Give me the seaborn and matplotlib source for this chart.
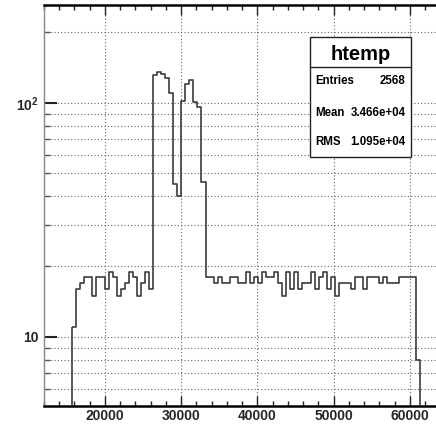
import numpy as np
import pandas as pd
import matplotlib
matplotlib.use("Agg")
import matplotlib.pyplot as plt
import seaborn as sns
from matplotlib import font_manager
from matplotlib.ticker import FixedLocator, FixedFormatter, MultipleLocator, NullFormatter, LogLocator
from matplotlib.patches import Rectangle
from matplotlib.lines import Line2D

# ---------------- data ----------------
bin_start = 15700.0
bin_width = 530.0
counts = [11, 16, 17, 18, 18, 15, 18, 18, 16, 19, 18, 15, 16, 17, 19, 18, 15, 17, 19, 16,
          131, 136, 133, 128, 110, 45, 40, 102, 121, 125, 101, 96, 46,
          18, 18, 17, 18, 17, 17, 18, 18, 17, 17, 19, 17, 18, 17, 19, 18, 18, 19, 17, 15,
          19, 16, 19, 16, 17, 17, 19, 16, 18, 19, 16, 18, 15, 17, 17, 17, 16, 18, 18, 16,
          18, 18, 18, 17, 18, 17, 17, 17, 18, 18, 18, 18, 8]
x_range = (12000, 65000)
y_range = (5.07, 262)
x_ticks = [20000, 30000, 40000, 50000, 60000]
x_tick_labels = ["20000", "30000", "40000", "50000", "60000"]
y_ticks = [10, 100]
y_tick_labels = ["10", r"$10^{2}$"]
stats_title = "htemp"
stats_names = ["Entries", "Mean", "RMS"]
stats_values = ["2568", "3.466e+04", "1.095e+04"]

# ---------------- style ----------------
sns.set_style("white")
plt.rcParams["font.family"] = ["Liberation Sans", "DejaVu Sans"]
plt.rcParams["font.weight"] = "bold"
plt.rcParams["mathtext.fontset"] = "custom"
plt.rcParams["mathtext.default"] = "bf"
plt.rcParams["mathtext.bf"] = "Liberation Sans:bold"
plt.rcParams["mathtext.rm"] = "Liberation Sans:bold"
plt.rcParams["mathtext.it"] = "Liberation Sans:bold"

installed = {f.name for f in font_manager.fontManager.ttflist}
if "Liberation Sans Narrow" in installed:
    stats_family = ["Liberation Sans Narrow", "Liberation Sans", "DejaVu Sans"]
    stats_size = 9.5
else:
    stats_family = ["Liberation Sans", "DejaVu Sans"]
    stats_size = 8.3

W, H = 436, 430
fig = plt.figure(figsize=(W / 100, H / 100), dpi=100)
fig.patch.set_facecolor("white")
ax = fig.add_axes([44 / W, 24 / H, 404 / W, 401 / H])

edges = (bin_start + bin_width * np.arange(len(counts) + 1)).tolist()
centers = [e + bin_width / 2 for e in edges[:-1]]
df = pd.DataFrame({"x": centers, "n": counts})

line_color = "#3c3c3c"
sns.histplot(data=df, x="x", weights="n", bins=edges, element="step", fill=True,
             color=line_color, facecolor="none", edgecolor=line_color,
             linewidth=1.2, ax=ax, zorder=3)

ax.set_yscale("log")
ax.set_xlim(*x_range)
ax.set_ylim(*y_range)
ax.set_xlabel("")
ax.set_ylabel("")

ax.xaxis.set_major_locator(FixedLocator(x_ticks))
ax.xaxis.set_major_formatter(FixedFormatter(x_tick_labels))
ax.xaxis.set_minor_locator(MultipleLocator(2000))
ax.yaxis.set_major_locator(FixedLocator(y_ticks))
ax.yaxis.set_major_formatter(FixedFormatter(y_tick_labels))
ax.yaxis.set_minor_locator(LogLocator(base=10, subs=np.arange(2, 10)))
ax.yaxis.set_minor_formatter(NullFormatter())

pt = 0.72
ax.tick_params(axis="x", which="major", direction="in", length=10 * pt, width=1.0,
               top=True, bottom=True, labelsize=10, pad=2.5, color="#222222")
ax.tick_params(axis="x", which="minor", direction="in", length=5 * pt, width=1.0,
               top=True, bottom=True, color="#222222")
ax.tick_params(axis="y", which="major", direction="in", length=13 * pt, width=1.5,
               left=True, right=False, labelsize=10, pad=4, color="#222222")
ax.tick_params(axis="y", which="minor", direction="in", length=6 * pt, width=1.0,
               left=True, right=False, color="#555555")
for lab in ax.get_xticklabels() + ax.get_yticklabels():
    lab.set_fontweight("bold")

grid_kw = dict(color="#666666", linestyle=(0, (1, 2)), linewidth=0.8)
ax.grid(True, which="major", axis="x", **grid_kw)
ax.grid(True, which="both", axis="y", **grid_kw)
ax.set_axisbelow(True)

ax.spines["left"].set_color("#888888")
ax.spines["left"].set_linewidth(1.0)
for s in ("bottom", "top"):
    ax.spines[s].set_color("black")
    ax.spines[s].set_linewidth(1.8)
ax.spines["right"].set_color("black")

# ---------------- stats box ----------------
bx0, bx1 = 309.7 / W, 411 / W
by_top, by_bot = 1 - 37.3 / H, 1 - 157.3 / H
sep = 1 - 66.7 / H
fig.add_artist(Rectangle((bx0, by_bot), bx1 - bx0, by_top - by_bot, transform=fig.transFigure,
                         facecolor="white", edgecolor="#222222", linewidth=1.0, zorder=10))
fig.add_artist(Line2D([bx0, bx1], [sep, sep], transform=fig.transFigure,
                      color="#222222", linewidth=1.0, zorder=11))
fig.text((bx0 + bx1) / 2, 1 - 54 / H, stats_title, ha="center", va="center",
         fontsize=14.5, fontweight="bold", color="black", zorder=12)
row_y = [81.5, 112.5, 141.7]
for name, val, ry in zip(stats_names, stats_values, row_y):
    fig.text(315 / W, 1 - ry / H, name, ha="left", va="center", fontsize=stats_size,
             family=stats_family, fontweight="bold", color="black", zorder=12)
    fig.text(405.5 / W, 1 - ry / H, val, ha="right", va="center", fontsize=stats_size,
             family=stats_family, fontweight="bold", color="black", zorder=12)

fig.savefig("out.png", dpi=100, facecolor="white")
